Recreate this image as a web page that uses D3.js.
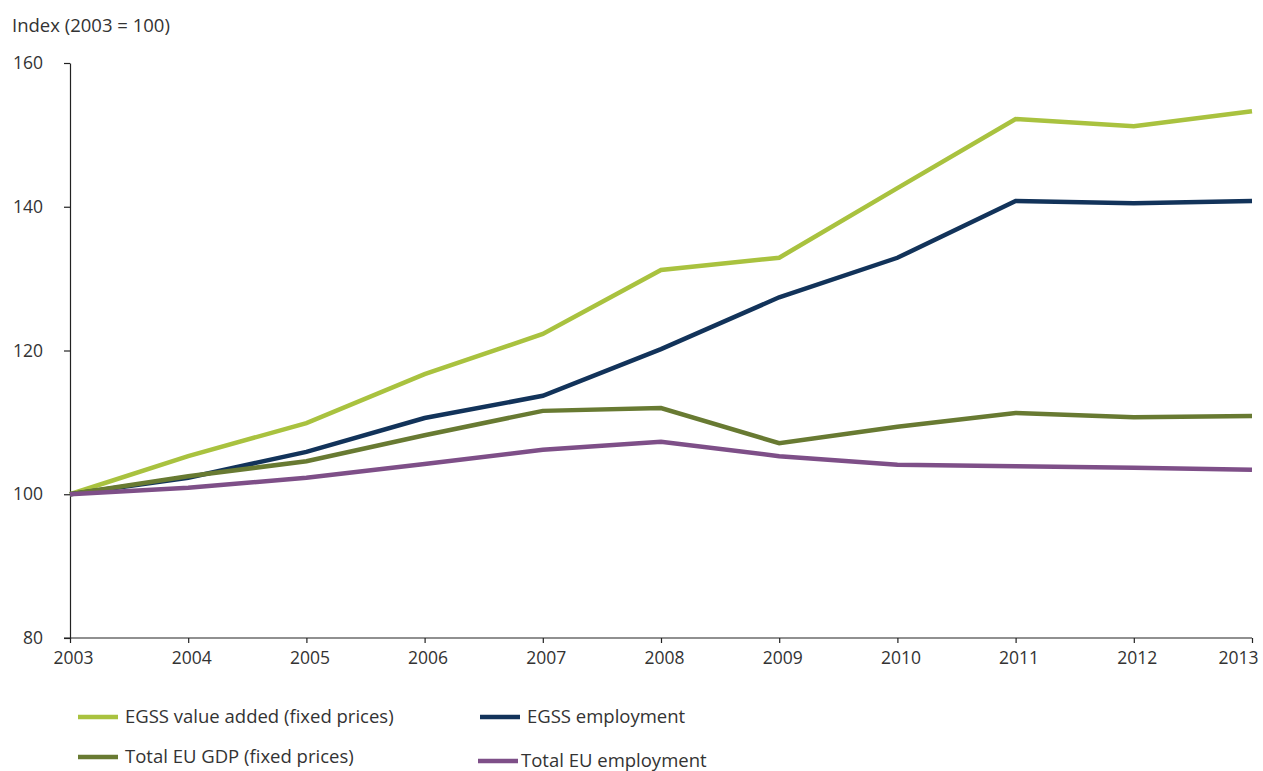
<!DOCTYPE html>
<html>
<head>
<meta charset="utf-8">
<script src="https://cdn.jsdelivr.net/npm/d3@7"></script>
<style>
  body { margin: 0; background: #fff; }
  text { font-family: "Open Sans", sans-serif; fill: #333; }
</style>
</head>
<body>
<div id="chart"></div>
<script>
// data
const years = [2003, 2004, 2005, 2006, 2007, 2008, 2009, 2010, 2011, 2012, 2013];
const egssValueAdded = [100, 105.3, 109.9, 116.7, 122.3, 131.2, 132.9, 142.6, 152.2, 151.2, 153.3];
const egssEmployment = [100, 102.3, 105.9, 110.6, 113.7, 120.2, 127.4, 132.9, 140.8, 140.5, 140.8];
const euGdp = [100, 102.5, 104.6, 108.2, 111.6, 112.0, 107.1, 109.4, 111.3, 110.7, 110.9];
const euEmployment = [100, 100.9, 102.3, 104.2, 106.2, 107.3, 105.3, 104.1, 103.9, 103.7, 103.4];
const yTicks = [80, 100, 120, 140, 160];

const width = 1263;
const height = 771;
const margin = { left: 70, right: 11, top: 63, bottom: 133 };

const svg = d3.select('#chart').append('svg')
    .attr('width', width).attr('height', height);

const x = d3.scaleLinear()
    .domain([2003, 2013])
    .range([margin.left, width - margin.right]);
const y = d3.scaleLinear()
    .domain([80, 160])
    .range([height - margin.bottom, margin.top]);

// axes
const xAxis = d3.axisBottom(x)
    .tickValues(years)
    .tickFormat(d3.format('d'))
    .tickSize(5)
    .tickPadding(9)
    .tickSizeOuter(0);
const yAxis = d3.axisLeft(y)
    .tickValues(yTicks)
    .tickSize(6)
    .tickPadding(21)
    .tickSizeOuter(0);

const gx = svg.append('g')
    .attr('transform', `translate(0,${height - margin.bottom})`)
    .call(xAxis);
const gy = svg.append('g')
    .attr('transform', `translate(${margin.left},0)`)
    .call(yAxis);

[gx, gy].forEach(g => {
    g.selectAll('path, line').attr('stroke', '#222').attr('stroke-width', 1.2);
    g.selectAll('text').attr('font-size', 17.5).style('fill', '#333');
});
gx.select('.domain').attr('d', `M${margin.left - 6},0H${width - margin.right}`);
// small nudge of year labels, last one pulled in from the edge
gx.selectAll('.tick text')
    .attr('x', d => d === 2013 ? -14 : 3);
// value labels right-aligned at x = 43
gy.selectAll('.tick text')
    .attr('x', -27)
    .attr('text-anchor', 'end');

svg.append('text')
    .attr('x', 12).attr('y', 32)
    .attr('font-size', 18.5)
    .text('Index (2003 = 100)');

// lines
const series = [
    { name: 'EGSS value added (fixed prices)', values: egssValueAdded, color: '#a9c23f' },
    { name: 'EGSS employment', values: egssEmployment, color: '#12335a' },
    { name: 'Total EU GDP (fixed prices)', values: euGdp, color: '#687a32' },
    { name: 'Total EU employment', values: euEmployment, color: '#7e4f88' }
];

const line = d3.line()
    .x((d, i) => x(years[i]))
    .y(d => y(d));

series.forEach(s => {
    svg.append('path')
        .datum(s.values)
        .attr('d', line)
        .attr('fill', 'none')
        .attr('stroke', s.color)
        .attr('stroke-width', 4.5)
        .attr('stroke-linejoin', 'miter');
});

// legend
const legendPos = [
    { x: 78, y: 717, tx: 125 },
    { x: 480, y: 717, tx: 527 },
    { x: 78, y: 757, tx: 125 },
    { x: 478, y: 761, tx: 521 }
];
series.forEach((s, i) => {
    const p = legendPos[i];
    svg.append('line')
        .attr('x1', p.x).attr('x2', p.x + 40)
        .attr('y1', p.y).attr('y2', p.y)
        .attr('stroke', s.color)
        .attr('stroke-width', 4.5);
    svg.append('text')
        .attr('x', p.tx).attr('y', p.y)
        .attr('dy', '0.35em')
        .attr('font-size', 18.5)
        .text(s.name);
});
</script>
</body>
</html>
